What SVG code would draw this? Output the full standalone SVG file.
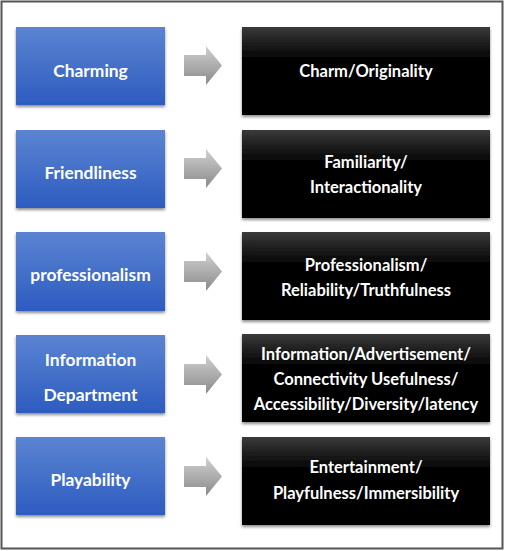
<svg xmlns="http://www.w3.org/2000/svg" width="505" height="551" viewBox="0 0 505 551">
<defs>
<linearGradient id="gBlue" x1="0" y1="0" x2="0" y2="1">
<stop offset="0" stop-color="#5b84d2"/>
<stop offset="1" stop-color="#2d5cc0"/>
</linearGradient>
<linearGradient id="gBlack" x1="0" y1="0" x2="0" y2="1">
<stop offset="0" stop-color="#3a3a3a"/>
<stop offset="0.35" stop-color="#050505"/>
<stop offset="1" stop-color="#000"/>
</linearGradient>
<linearGradient id="gArrow" x1="0" y1="0" x2="0" y2="1">
<stop offset="0" stop-color="#d0d0d0"/>
<stop offset="1" stop-color="#8a8a8a"/>
</linearGradient>
<filter id="sh" x="-10%" y="-10%" width="120%" height="130%">
<feDropShadow dx="0" dy="2" stdDeviation="1.5" flood-color="#000" flood-opacity="0.45"/>
</filter>
<path id="arr" d="M0,9 H22 V0 L38,19.5 L22,39 V30 H0 Z"/>
</defs>
<style>
.blue{fill:url(#gBlue);filter:url(#sh)}
.black{fill:url(#gBlack);filter:url(#sh)}
.arrow{fill:url(#gArrow)}
text{font-family:Lato,"Open Sans","Liberation Sans",sans-serif;font-weight:bold;fill:#fff;text-anchor:middle}
.t1{font-size:17.4px}
.t2{font-size:16.5px}
</style>
<rect x="0" y="0" width="505" height="551" fill="#fff"/>
<rect x="1.5" y="1.5" width="501" height="547" fill="none" stroke="#555" stroke-width="2"/>

<g id="src1"><rect class="blue" x="16" y="27" width="149" height="78"/><text class="t1" x="90.5" y="77">Charming</text></g>
<g id="src2"><rect class="blue" x="16" y="130" width="149" height="78"/><text class="t1" x="90.5" y="179">Friendliness</text></g>
<g id="src3"><rect class="blue" x="16" y="232" width="149" height="79"/><text class="t1" x="90.5" y="281">professionalism</text></g>
<g id="src4"><rect class="blue" x="16" y="335" width="149" height="78"/><text class="t1" x="90.5" y="366">Information</text><text class="t1" x="90.5" y="401">Department</text></g>
<g id="src5"><rect class="blue" x="16" y="437" width="149" height="78"/><text class="t1" x="90.5" y="486">Playability</text></g>

<g id="connectors">
<use href="#arr" class="arrow" x="184" y="46"/>
<use href="#arr" class="arrow" x="184" y="149"/>
<use href="#arr" class="arrow" x="184" y="252"/>
<use href="#arr" class="arrow" x="184" y="355"/>
<use href="#arr" class="arrow" x="184" y="457"/>
</g>

<g id="dst1"><rect class="black" x="242" y="27" width="248" height="88"/><text class="t2" x="366" y="77">Charm/Originality</text></g>
<g id="dst2"><rect class="black" x="242" y="130" width="248" height="88"/><text class="t2" x="366" y="168">Familiarity/</text><text class="t2" x="366" y="193">Interactionality</text></g>
<g id="dst3"><rect class="black" x="242" y="232" width="248" height="88"/><text class="t2" x="366" y="271">Professionalism/</text><text class="t2" x="366" y="296">Reliability/Truthfulness</text></g>
<g id="dst4"><rect class="black" x="242" y="334" width="248" height="88"/><text class="t2" x="366" y="360">Information/Advertisement/</text><text class="t2" x="366" y="385">Connectivity Usefulness/</text><text class="t2" x="366" y="410">Accessibility/Diversity/latency</text></g>
<g id="dst5"><rect class="black" x="242" y="437" width="248" height="88"/><text class="t2" x="366" y="473">Entertainment/</text><text class="t2" x="366" y="499">Playfulness/Immersibility</text></g>
</svg>
